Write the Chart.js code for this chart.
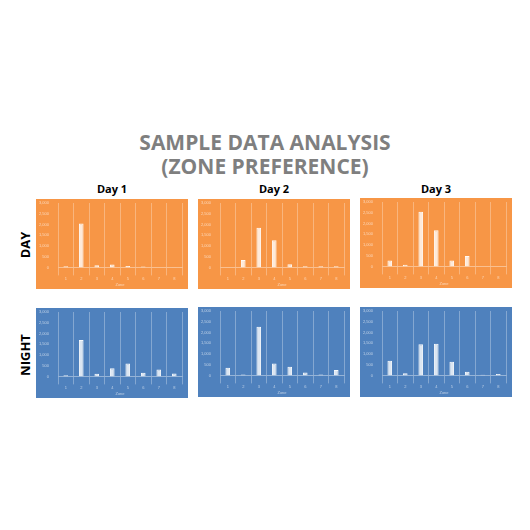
<!DOCTYPE html>
<html><head><meta charset="utf-8">
<script src="https://cdn.jsdelivr.net/npm/chart.js@4"></script>
<style>
body{margin:0;width:530px;height:530px;background:#fff;font-family:"Open Sans",sans-serif;position:relative;overflow:hidden}
.t{position:absolute;left:0;width:530px;text-align:center;color:#7f7f7f;font-weight:bold;font-size:21px;line-height:24px}
.c{position:absolute;font-weight:bold;font-size:11px;color:#000;text-align:center;width:152px}
.r{position:absolute;font-weight:bold;font-size:13px;color:#000;transform:rotate(-90deg);transform-origin:center;width:60px;text-align:center}
.p{position:absolute;width:152px;height:90px}
</style></head><body>
<div class="t" style="top:130px">SAMPLE DATA ANALYSIS</div>
<div class="t" style="top:154px">(ZONE PREFERENCE)</div>
<div class="c" style="left:36px;top:181px">Day 1</div>
<div class="c" style="left:198px;top:181px">Day 2</div>
<div class="c" style="left:360px;top:181px">Day 3</div>
<div class="r" style="left:-5px;top:236px">DAY</div>
<div class="r" style="left:-5px;top:346px">NIGHT</div>
<div class="p" style="left:36px;top:199px"><canvas id="c0"></canvas></div>
<div class="p" style="left:198px;top:199px"><canvas id="c1"></canvas></div>
<div class="p" style="left:360px;top:198px"><canvas id="c2"></canvas></div>
<div class="p" style="left:36px;top:308px"><canvas id="c3"></canvas></div>
<div class="p" style="left:198px;top:307px"><canvas id="c4"></canvas></div>
<div class="p" style="left:360px;top:307px"><canvas id="c5"></canvas></div>
<script>
const zones=["1","2","3","4","5","6","7","8"];
const day1=[50,2050,100,130,70,40,0,10];
const day2=[10,350,1850,1270,150,50,50,50];
const day3=[280,80,2550,1680,280,480,0,0];
const night1=[50,1700,120,380,600,170,320,130];
const night2=[360,40,2270,560,400,130,40,250];
const night3=[680,100,1450,1470,640,170,30,60];
const series=[day1,day2,day3,night1,night2,night3];
const bg=p=>({id:'bg',beforeDraw(c){const x=c.ctx;x.save();x.fillStyle=p;x.fillRect(0,0,c.width,c.height);x.restore();}});
series.forEach((d,i)=>{
 const col=i<3?'#f79646':'#4f81bd';
 new Chart(document.getElementById('c'+i),{type:'bar',
  data:{labels:zones,datasets:[{data:d,backgroundColor:'rgba(255,255,255,0.8)',borderColor:'rgba(255,255,255,0.95)',borderWidth:1,barPercentage:0.3,categoryPercentage:1}]},
  options:{responsive:true,maintainAspectRatio:false,animation:false,
   layout:{padding:{top:4,right:6,bottom:2,left:2}},
   plugins:{legend:{display:false},tooltip:{enabled:false}},
   scales:{
    x:{grid:{color:'rgba(255,255,255,0.3)',offset:true},border:{color:'rgba(255,255,255,0.4)'},ticks:{color:'rgba(255,255,255,0.6)',font:{size:4},padding:1},title:{display:true,text:'Zone',color:'rgba(255,255,255,0.6)',font:{size:4},padding:0}},
    y:{min:0,max:3000,ticks:{stepSize:500,color:'rgba(255,255,255,0.6)',font:{size:4},padding:1},grid:{display:false},border:{display:false}}
   }},
  plugins:[bg(col)]});
});
</script>
</body></html>
